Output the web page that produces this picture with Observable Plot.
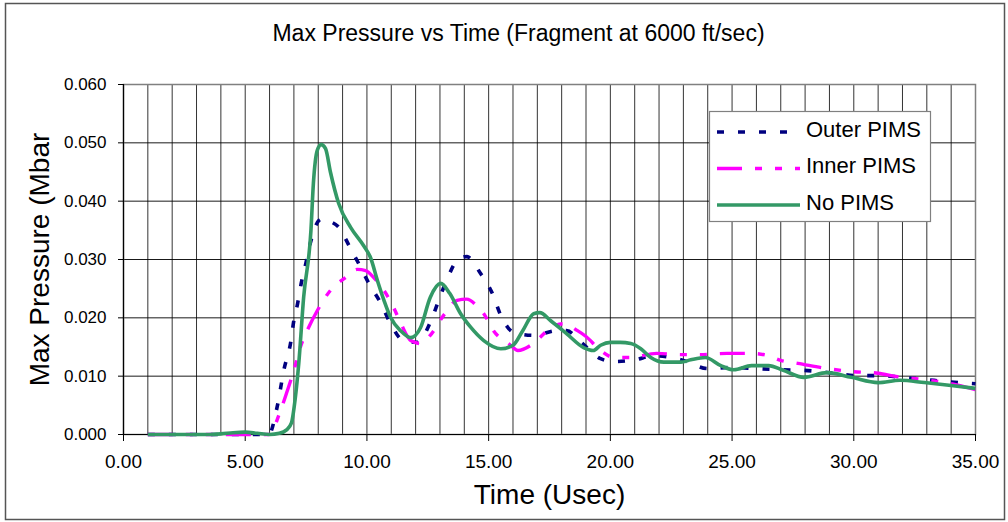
<!DOCTYPE html>
<html>
<head>
<meta charset="utf-8">
<script src="https://cdn.jsdelivr.net/npm/d3@7"></script>
<script src="https://cdn.jsdelivr.net/npm/@observablehq/plot@0.6"></script>
<style>
  html, body { margin: 0; padding: 0; background: white; }
  #wrap { position: relative; width: 1008px; height: 522px; overflow: hidden; }
</style>
</head>
<body>
<div id="wrap"></div>
<script>
// ---- data ----
const chartTitle = "Max Pressure vs Time (Fragment at 6000 ft/sec)";
const xLabel = "Time (Usec)";
const yLabel = "Max Pressure (Mbar";
const seriesNames = ["Outer PIMS", "Inner PIMS", "No PIMS"];
const xTicks = [0, 5, 10, 15, 20, 25, 30, 35];
const xGrid = [0,1,2,3,4,5,6,7,8,9,10,11,12,13,14,15,16,17,18,19,20,21,22,23,24,25,26,27,28,29,30,31,32,33,34,35];
const yTicks = [0, 0.01, 0.02, 0.03, 0.04, 0.05, 0.06];

const outerT = [1,3,5,5.97,6.3,6.6,6.86,7.0,7.15,7.3,7.5,7.7,8.03,8.2,8.5,8.85,9.3,9.75,10.08,10.56,10.97,11.5,12.07,12.6,12.95,13.3,13.7,14.1,14.67,15.15,15.5,16.04,16.86,17.8,18.2,18.8,19.6,20.1,21.0,21.8,23.0,24.0,25.0,26.0,27.0,27.95,29.0,30.1,31.0,32.0,33.0,34.0,35.0];
const outerV = [0,0,0,0,0.0045,0.0113,0.0156,0.0196,0.0224,0.0259,0.0295,0.0332,0.0367,0.037,0.0365,0.0355,0.0321,0.0286,0.0259,0.0226,0.019,0.0161,0.0158,0.0192,0.023,0.0267,0.0298,0.0305,0.0276,0.0242,0.0204,0.0175,0.017,0.0178,0.0178,0.0158,0.013,0.0125,0.0128,0.0135,0.0127,0.0113,0.0115,0.0113,0.0111,0.011,0.0106,0.0101,0.0101,0.0098,0.0094,0.009,0.0087];

const innerT = [1,3,5,5.97,6.45,6.73,7.0,7.27,7.6,7.97,8.5,9.12,9.6,9.95,10.28,10.65,11.06,11.4,11.8,12.2,12.6,13.2,13.7,14.1,14.5,14.8,15.2,15.9,16.2,16.73,17.1,17.55,18.1,18.65,19.0,19.6,20.15,20.84,21.9,22.9,23.7,24.8,25.8,26.5,27.0,27.7,28.9,29.9,31.0,31.8,32.9,34.0,35.0];
const innerV = [0,0,0,0,0.0041,0.0075,0.011,0.015,0.0183,0.0213,0.0247,0.0269,0.0283,0.0281,0.0269,0.025,0.0221,0.019,0.0161,0.0156,0.017,0.0207,0.023,0.0232,0.0221,0.0207,0.0178,0.0153,0.0144,0.0153,0.0166,0.0183,0.019,0.0178,0.0168,0.0144,0.0132,0.0132,0.0139,0.0137,0.0137,0.0139,0.0139,0.0135,0.0127,0.0122,0.0113,0.0108,0.0105,0.0099,0.0094,0.0087,0.0077];

const noT = [1,2,3,3.5,4,4.5,5,5.5,6,6.4,6.7,6.9,7.05,7.2,7.4,7.7,7.8,7.96,8.12,8.3,8.5,8.84,9.33,9.86,10.15,10.43,10.7,10.97,11.38,11.8,12.2,12.6,13.03,13.4,13.85,14.26,14.8,15.5,16.0,16.4,16.85,17.1,17.55,18.2,18.9,19.3,19.6,20.0,20.4,20.84,21.25,21.66,22.2,22.9,23.3,23.9,24.54,25.07,25.8,26.5,27.1,27.95,28.9,29.9,31.0,31.9,32.9,34.0,35.0];
const noV = [0,0,0,0,0.0001,0.0003,0.0004,0.0002,0,0.0002,0.0008,0.002,0.006,0.0122,0.0235,0.035,0.043,0.0487,0.0497,0.049,0.045,0.0396,0.0355,0.0324,0.0303,0.0264,0.023,0.0201,0.0178,0.0166,0.0183,0.0235,0.0259,0.0242,0.0207,0.0184,0.0161,0.0147,0.0153,0.0178,0.0207,0.0209,0.0195,0.0173,0.0149,0.0144,0.0153,0.0158,0.0158,0.0156,0.0147,0.0132,0.0124,0.0124,0.0128,0.0132,0.0118,0.0111,0.0118,0.0118,0.011,0.0098,0.0106,0.0098,0.0089,0.0093,0.0089,0.0084,0.0079];

const colors = ["#000080", "#FF00FF", "#339966"];
const dashes = ["7,14", "25,13,7,13,7,13", null];
const widths = [3.6, 3.4, 3.6];

const toRows = (ts, vs) => ts.map((t, i) => ({t, v: vs[i]}));
const seriesRows = [toRows(outerT, outerV), toRows(innerT, innerV), toRows(noT, noV)];

const FONT = "'Liberation Sans', Arial, Helvetica, sans-serif";

const lineMarks = seriesRows.map((rows, i) => Plot.line(rows, {
  x: "t", y: "v", stroke: colors[i], strokeWidth: widths[i],
  strokeDasharray: dashes[i], strokeLinecap: "butt", curve: "monotone-x"
}));

const chart = Plot.plot({
  width: 1008, height: 522,
  marginLeft: 123, marginRight: 33, marginTop: 84, marginBottom: 88,
  style: {fontFamily: FONT, background: "white", color: "#000"},
  x: {domain: [0, 35]},
  y: {domain: [0, 0.06]},
  marks: [
    Plot.gridX(xGrid, {stroke: "#000", strokeOpacity: 0.8, strokeWidth: 1}),
    Plot.gridY(yTicks, {stroke: "#000", strokeOpacity: 0.9, strokeWidth: 1}),
    Plot.frame({stroke: "#808080", strokeWidth: 1.5}),
    Plot.ruleX([0], {stroke: "#000", strokeWidth: 1.2}),
    Plot.ruleY([0], {stroke: "#000", strokeWidth: 1.2}),
    Plot.axisX(xTicks, {tickFormat: d3.format(".2f"), tickSize: 7, tickPadding: 13, fontSize: 19, label: null}),
    Plot.axisY(yTicks, {tickFormat: d3.format(".3f"), tickSize: 5, tickPadding: 12, fontSize: 17, label: null}),
    ...lineMarks,
    Plot.text([chartTitle], {frameAnchor: "top", dx: -31, dy: -51, fontSize: 23, lineAnchor: "middle", textAnchor: "middle"}),
    Plot.text([xLabel], {frameAnchor: "bottom", dy: 61, fontSize: 28, lineAnchor: "middle", textAnchor: "middle"}),
    Plot.text([yLabel], {frameAnchor: "left", dx: -83, rotate: -90, fontSize: 28, lineAnchor: "middle", textAnchor: "middle"})
  ]
});

document.getElementById("wrap").appendChild(chart);

// outer chart border + legend
const svg = d3.select(chart);
svg.insert("rect", ":first-child")
  .attr("x", 5.5).attr("y", 3.5).attr("width", 999).attr("height", 516)
  .attr("fill", "white").attr("stroke", "#555").attr("stroke-width", 1.5);

const lg = svg.append("g");
lg.append("rect").attr("x", 709.5).attr("y", 111.5).attr("width", 221).attr("height", 110)
  .attr("fill", "white").attr("stroke", "#808080").attr("stroke-width", 1.2);
seriesNames.forEach((name, i) => {
  const ly = 132 + i * 36.5;
  lg.append("line").attr("x1", 717).attr("x2", 800).attr("y1", ly).attr("y2", ly)
    .attr("stroke", colors[i]).attr("stroke-width", widths[i])
    .attr("stroke-dasharray", dashes[i]).attr("stroke-linecap", "butt");
  lg.append("text").attr("x", 806).attr("y", ly - 3)
    .style("font-family", FONT).style("font-size", "22px").style("text-anchor", "start")
    .style("dominant-baseline", "central").attr("fill", "#000").text(name);
});
</script>
</body>
</html>
